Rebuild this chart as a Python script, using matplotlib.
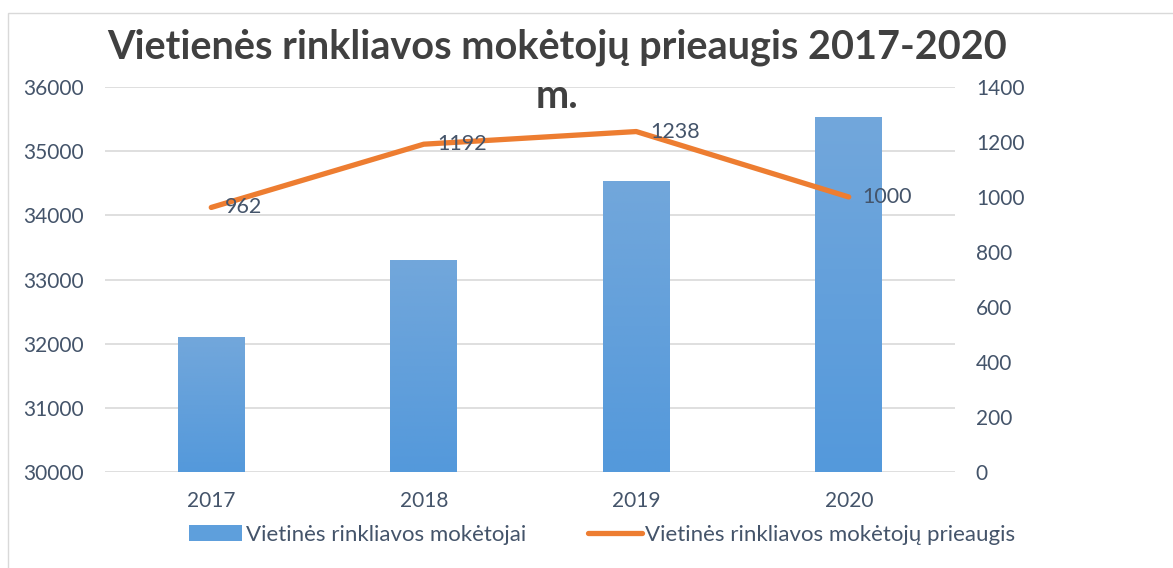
import numpy as np
import matplotlib
matplotlib.use('Agg')
import matplotlib.pyplot as plt
from matplotlib.patches import Rectangle
from matplotlib.lines import Line2D
from matplotlib.patches import Patch

years = ['2017', '2018', '2019', '2020']
payers = [32100, 33300, 34540, 35540]
growth = [962, 1192, 1238, 1000]

bar_name = 'Vietinės rinkliavos mokėtojai'
line_name = 'Vietinės rinkliavos mokėtojų prieaugis'
title_lines = ['Vietienės rinkliavos mokėtojų prieaugis 2017-2020', 'm.']

plt.rcParams['font.family'] = ['Lato', 'DejaVu Sans']
txt_color = '#44546A'

fig = plt.figure(figsize=(11.73, 5.68), dpi=100)
# light frame of the chart area (left and top edges visible)
fig.patches.append(Rectangle((8 / 1173, -0.1), 1.2, 1.1 - 13 / 568,
                             transform=fig.transFigure, fill=False,
                             edgecolor='#D9D9D9', linewidth=1))
ax = fig.add_axes([105 / 1173, 1 - 472 / 568, 850 / 1173, 385 / 568])
ax2 = ax.twinx()
ax.set_zorder(1)
ax2.set_zorder(2)
ax.patch.set_visible(False)

x = np.arange(len(years))
bars = ax.bar(x, payers, width=0.315, color='#5E9FDC', zorder=2)
# vertical gradient inside each bar
grad = np.linspace(0, 1, 100).reshape(-1, 1)
cmap = matplotlib.colors.LinearSegmentedColormap.from_list('g', ['#5499DB', '#72A7DB'])
for b in bars:
    x0 = b.get_x()
    im = ax.imshow(grad, cmap=cmap, aspect='auto', origin='lower',
                   extent=[x0, x0 + b.get_width(), 30000, b.get_height()], zorder=2)
    im.set_clip_path(b)

ax.set_ylim(30000, 36000)
ax.set_xlim(-0.5, 3.5)
ax.set_yticks(range(30000, 36001, 1000))
ax.grid(axis='y', color='#D9D9D9', linewidth=1.2, zorder=0)
ax.set_xticks(x)
ax.set_xticklabels(years)
for s in ax.spines.values():
    s.set_visible(False)
for s in ax2.spines.values():
    s.set_visible(False)
ax.tick_params(axis='both', length=0, labelsize=15, colors=txt_color)
ax.tick_params(axis='y', pad=15)
ax.tick_params(axis='x', pad=14)

ax2.plot(x, growth, color='#ED7D31', linewidth=3.8, solid_capstyle='round')
ax2.set_ylim(0, 1400)
ax2.set_yticks(range(0, 1401, 200))
ax2.tick_params(axis='y', length=0, labelsize=15, colors=txt_color, pad=15)
for xi, v in zip(x, growth):
    ax2.annotate(str(v), (xi, v), xytext=(10, 0), textcoords='offset points',
                 ha='left', va='center', fontsize=15.5, color=txt_color)

# title wraps onto a second line in the original
fig.text(557 / 1173, 1 - 47 / 568, title_lines[0], ha='center', va='center',
         fontsize=28.5, fontweight='bold', color='#404040')
fig.text(557 / 1173, 1 - 97 / 568, title_lines[1], ha='center', va='center',
         fontsize=28.5, fontweight='bold', color='#404040')

handles = [Patch(facecolor='#5E9FDC', edgecolor='none'),
           Line2D([0], [0], color='#ED7D31', linewidth=3.8, solid_capstyle='round')]
fig.legend(handles, [bar_name, line_name], loc='center', ncol=2,
           bbox_to_anchor=(602 / 1173, 1 - 535 / 568), frameon=False,
           fontsize=16, labelcolor=txt_color, handlelength=2.4,
           handletextpad=0.15, columnspacing=2.8)

fig.savefig('out.png', dpi=100)
